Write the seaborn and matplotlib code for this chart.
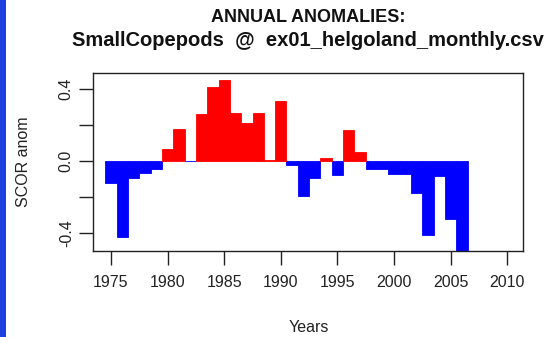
import matplotlib
matplotlib.use("Agg")
import matplotlib.pyplot as plt
import seaborn as sns
import pandas as pd
import numpy as np
from matplotlib.patches import Rectangle

years = list(range(1975, 2007))
anomalies = [-0.12, -0.42, -0.09, -0.065, -0.04, 0.07, 0.18, 0.0, 0.26, 0.41,
             0.45, 0.27, 0.21, 0.27, 0.005, 0.335, -0.02, -0.195, -0.09, 0.02,
             -0.075, 0.175, 0.05, -0.043, -0.043, -0.068, -0.068, -0.177, -0.407, -0.079,
             -0.32, -0.52]
x_ticks = [1975, 1980, 1985, 1990, 1995, 2000, 2005, 2010]
y_ticks = [-0.4, -0.2, 0.0, 0.2, 0.4]
y_tick_labels = ["-0.4", "", "0.0", "", "0.4"]
title_line1 = "ANNUAL ANOMALIES:"
title_line2 = "SmallCopepods  @  ex01_helgoland_monthly.csv"

sns.set_style("ticks")
plt.rcParams["font.family"] = ["Liberation Sans", "DejaVu Sans"]

df = pd.DataFrame({"year": years, "anom": anomalies})
df["sign"] = np.where(df["anom"] > 0, "pos", "neg")

W, H = 560, 337
fig = plt.figure(figsize=(W / 100, H / 100), dpi=100)
fig.patch.set_facecolor("white")
L, R, T, B = 93.3, 523.3, 72.7, 251.0
ax = fig.add_axes([L / W, 1 - B / H, (R - L) / W, (B - T) / H])

sns.barplot(data=df, x="year", y="anom", hue="sign",
            palette={"pos": "#ff0000", "neg": "#0000ff"}, saturation=1,
            native_scale=True, width=1, dodge=False, legend=False,
            linewidth=0.6, ax=ax)
for p in ax.patches:
    p.set_edgecolor(p.get_facecolor())

ax.set_xlim(1973.44, 2011.41)
ax.set_ylim(-0.498, 0.492)
ax.set_xticks(x_ticks)
ax.set_xticklabels([str(t) for t in x_ticks])
ax.set_yticks(y_ticks)
ax.set_yticklabels(y_tick_labels)
for lab in ax.get_yticklabels():
    lab.set_rotation(90)
    lab.set_va("center")
ax.tick_params(axis="x", length=10, width=1, pad=7, labelsize=11.5, colors="#222222")
ax.tick_params(axis="y", length=10, width=1, pad=4, labelsize=11.5, colors="#222222")
for s in ax.spines.values():
    s.set_visible(True)
    s.set_color("#222222")
    s.set_linewidth(1.0)

ax.set_xlabel("Years", fontsize=11.5, color="#222222")
ax.set_ylabel("SCOR anom", fontsize=11.5, color="#222222")
ax.xaxis.set_label_coords(0.5, -(327 - B) / (B - T))
ax.xaxis.label.set_va("center")
ax.yaxis.set_label_coords((24 - L) / (R - L), 0.5)
ax.yaxis.label.set_va("center")

cx = (L + R) / 2 / W
fig.text(cx, 1 - 17 / H, title_line1, ha="center", va="center",
         fontsize=13, fontweight="bold", color="#111111")
fig.text(cx, 1 - 41 / H, title_line2, ha="center", va="center",
         fontsize=14.5, fontweight="bold", color="#111111")

fig.patches.append(Rectangle((0, 0), 6 / W, 1, transform=fig.transFigure,
                             facecolor="#1f3fe0", edgecolor="none"))

fig.savefig("out.png", dpi=100)
